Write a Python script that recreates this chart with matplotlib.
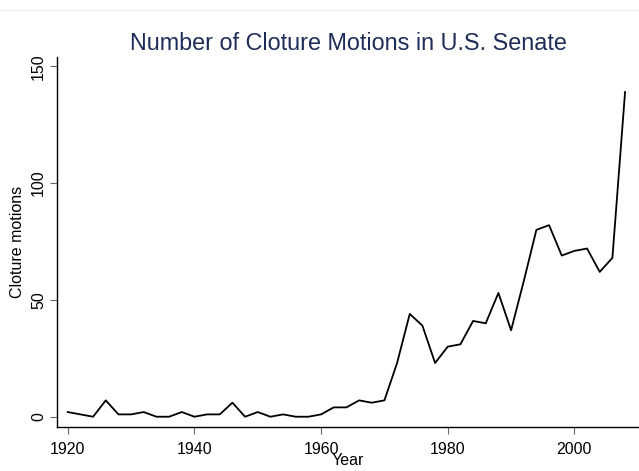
import matplotlib
matplotlib.use("Agg")
import matplotlib.pyplot as plt
from matplotlib.lines import Line2D

plt.rcParams['font.family'] = ['Liberation Sans', 'DejaVu Sans']

# cloture motions per Congress (two-year periods)
years = list(range(1920, 2009, 2))
motions = [2, 1, 0, 7, 1, 1, 2, 0, 0, 2,
           0, 1, 1, 6, 0, 2, 0, 1, 0, 0,
           1, 4, 4, 7, 6, 7, 23, 44, 39, 23,
           30, 31, 41, 40, 53, 37, 58, 80, 82, 69,
           71, 72, 62, 68, 139]

W, H = 639, 471
fig = plt.figure(figsize=(W / 100, H / 100), dpi=100)
fig.patch.set_facecolor('white')

# axes box in pixels: left 57, right 639, top 57, bottom 427
ax = fig.add_axes([57 / W, 1 - 427 / H, (639 - 57) / W, (427 - 57) / H])
ax.plot(years, motions, color='black', lw=1.3)

ax.set_xlim(1918.3, 2010.2)
ax.set_ylim(-4.4, 154.0)
ax.set_xticks([1920, 1940, 1960, 1980, 2000])
ax.set_yticks([0, 50, 100, 150])
ax.set_yticklabels(['0', '50', '100', '150'], rotation=90, va='center')

ax.spines['top'].set_visible(False)
ax.spines['right'].set_visible(False)
for s in ['left', 'bottom']:
    ax.spines[s].set_linewidth(1.0)
ax.tick_params(axis='both', length=5, width=0.8, color='#666666',
               labelsize=11.5)
ax.tick_params(axis='x', pad=6)
ax.tick_params(axis='y', pad=3)

ax.set_xlabel('Year', fontsize=11.5, labelpad=-3)
ax.set_ylabel('Cloture motions', fontsize=11.5, labelpad=4)

fig.text(348 / W, 1 - 49.5 / H, 'Number of Cloture Motions in U.S. Senate',
         ha='center', va='baseline', fontsize=16.8, color='#1e2d58')

# faint rule along the top
fig.add_artist(Line2D([0, 1], [1 - 10 / H, 1 - 10 / H], color='#ececec', lw=0.8))

fig.savefig('out.png', dpi=100)
